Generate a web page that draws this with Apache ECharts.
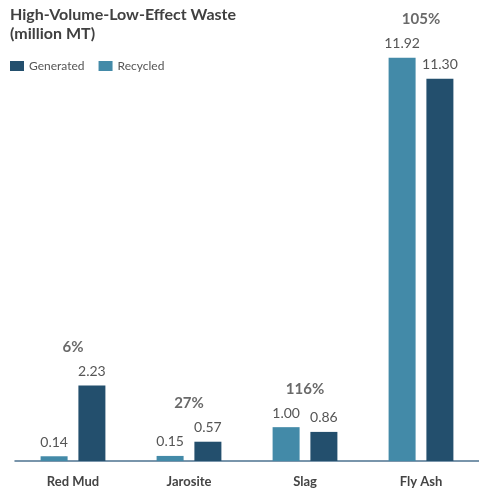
<!DOCTYPE html>
<html>
<head>
<meta charset="utf-8">
<script src="https://cdn.jsdelivr.net/npm/echarts@6/dist/echarts.min.js"></script>
<style>
  html, body { margin: 0; padding: 0; background: #fff; }
  #chart { width: 479px; height: 489px; }
</style>
</head>
<body>
<div id="chart"></div>
<script>
// data
var categories = ['Red Mud', 'Jarosite', 'Slag', 'Fly Ash'];
var recycled = [0.14, 0.15, 1.00, 11.92];
var generated = [2.23, 0.57, 0.86, 11.30];
var ratioLabels = ['6%', '27%', '116%', '105%']; // recycled / generated, as printed

var chart = echarts.init(document.getElementById('chart'));

// the ratio label sits above the taller bar of each group
var groupTop = categories.map(function (c, i) {
  return Math.max(recycled[i], generated[i]);
});

var option = {
  animation: false,
  textStyle: { fontFamily: 'Lato' },
  title: {
    text: 'High-Volume-Low-Effect Waste\n(million MT)',
    left: 10,
    top: 5,
    padding: 0,
    textStyle: { fontSize: 16, fontWeight: 'bold', color: '#404040', lineHeight: 19, fontFamily: 'Lato' }
  },
  legend: {
    data: ['Generated', 'Recycled'],
    left: 10,
    top: 60,
    padding: 0,
    icon: 'rect',
    itemWidth: 14,
    itemHeight: 10,
    itemGap: 14,
    textStyle: { fontSize: 12, color: '#555' }
  },
  grid: { left: 15, right: -3, top: 55, bottom: 28 },
  xAxis: {
    type: 'category',
    data: categories,
    axisLine: { lineStyle: { color: '#4d7390', width: 1.5 } },
    axisTick: { show: false },
    axisLabel: { fontSize: 13, fontWeight: 'bold', color: '#444', margin: 14 }
  },
  yAxis: {
    type: 'value',
    min: 0,
    max: 12,
    show: false,
    splitLine: { show: false }
  },
  series: [
    {
      name: 'Recycled',
      type: 'bar',
      data: recycled,
      barWidth: 27,
      barGap: '40%',
      itemStyle: { color: '#438aa8' },
      label: {
        show: true, position: 'top', distance: 7,
        fontSize: 14, color: '#555',
        formatter: function (p) { return p.value.toFixed(2); }
      }
    },
    {
      name: 'Generated',
      type: 'bar',
      data: generated,
      barWidth: 27,
      itemStyle: { color: '#234f6d' },
      label: {
        show: true, position: 'top', distance: 7,
        fontSize: 14, color: '#555',
        formatter: function (p) { return p.value.toFixed(2); }
      }
    },
    {
      name: 'ratio',
      type: 'scatter',
      data: groupTop,
      symbolSize: 0,
      silent: true,
      label: {
        show: true, position: 'top', distance: 31,
        fontSize: 15, fontWeight: 'bold', color: '#444',
        formatter: function (p) { return ratioLabels[p.dataIndex]; }
      }
    }
  ]
};

chart.setOption(option);
</script>
</body>
</html>
